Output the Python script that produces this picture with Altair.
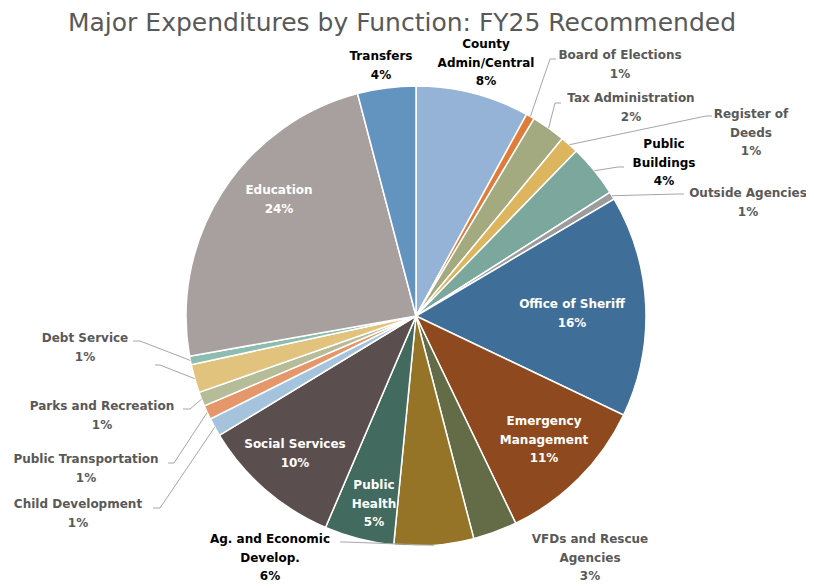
import math
import altair as alt
import pandas as pd

# ---------------- data ----------------
categories = [
    "County Admin/Central", "Board of Elections", "Tax Administration",
    "Register of Deeds", "Public Buildings", "Outside Agencies",
    "Office of Sheriff", "Emergency Management", "VFDs and Rescue Agencies",
    "Ag. and Economic Develop.", "Public Health", "Social Services",
    "Child Development", "Public Transportation", "Parks and Recreation",
    "(unlabeled)", "Debt Service", "Education", "Transfers",
]
values = [8.0, 0.6, 2.4, 1.3, 3.7, 0.55, 15.6, 10.8, 3.1, 5.6, 4.9, 9.9,
          1.3, 1.0, 1.0, 2.0, 0.6, 23.75, 4.1]
label_names = [
    "County\nAdmin/Central", "Board of Elections", "Tax Administration",
    "Register of\nDeeds", "Public\nBuildings", "Outside Agencies",
    "Office of Sheriff", "Emergency\nManagement", "VFDs and Rescue\nAgencies",
    "Ag. and Economic\nDevelop.", "Public\nHealth", "Social Services",
    "Child Development", "Public Transportation", "Parks and Recreation",
    "", "Debt Service", "Education", "Transfers",
]
title_text = "Major Expenditures by Function: FY25 Recommended"

# ---------------- styles / layout ----------------
colors = ["#95B3D7", "#E07B39", "#A3AA80", "#DDB55E", "#7BA79D", "#9C9C9C",
          "#3F6E98", "#8E4A1E", "#636B47", "#957428", "#426A5F", "#5A4E4E",
          "#A6C3DD", "#E5976B", "#B5BC97", "#E1C37D", "#8DBDB0", "#A8A09F",
          "#6394BF"]
label_colors = ["#000000", "#595959", "#595959", "#595959", "#000000", "#595959",
                "#FFFFFF", "#FFFFFF", "#595959", "#000000", "#FFFFFF", "#FFFFFF",
                "#595959", "#595959", "#595959", "#595959", "#595959", "#FFFFFF",
                "#000000"]
# label anchor (center x, first-line baseline y) in page pixels
label_pos = [(486, 48), (620, 59), (631, 102), (751, 118), (664, 148), (748, 197),
             (572, 308), (544, 425), (590, 543), (270, 543), (374, 489), (295, 448),
             (78, 508), (86, 463), (102, 410), (0, 0), (85, 342), (279, 194),
             (381, 60)]
# leader lines: elbow and end points (page pixels); None = no leader
leaders = [None, [(550, 59), (556, 59)], [(555, 103), (561, 103)],
           [(706, 116), (712, 116)], [(618, 167), (624, 167)], [(678, 194), (684, 194)],
           None, None, None, [(345, 542), (340, 542)], None, None,
           [(160, 508), (153, 508)], [(174, 463), (168, 463)], [(190, 409), (183, 409)],
           [(160, 365), (155, 365)], [(140, 341), (133, 341)], None, None]

PAGE = 8
W, H = 798, 576
CX, CY, R = 416 - PAGE, 316 - PAGE, 230
FONT = "DejaVu Sans"

# ---------------- build tables ----------------
total = sum(values)
df = pd.DataFrame({"category": categories, "value": values,
                   "order": list(range(len(categories)))})

lab_rows, line_rows = [], []
cum = 0.0
for i, (cat, v) in enumerate(zip(categories, values)):
    mid = (cum + v / 2) / total * 2 * math.pi
    cum += v
    pct = int(math.floor(v / total * 100 + 0.5))
    if label_names[i]:
        lx, ly = label_pos[i]
        lab_rows.append({"x": lx - PAGE, "y": ly - PAGE,
                         "text": f"{label_names[i]}\n{pct}%",
                         "tcolor": label_colors[i]})
    if leaders[i]:
        sx = CX + R * math.sin(mid)
        sy = CY - R * math.cos(mid)
        pts = [(sx, sy)] + [(px - PAGE, py - PAGE) for px, py in leaders[i]]
        for k, (px, py) in enumerate(pts):
            line_rows.append({"id": cat, "seq": k, "x": px, "y": py})

labels_df = pd.DataFrame(lab_rows)
lines_df = pd.DataFrame(line_rows)

pie = alt.Chart(df).mark_arc(radius=R, stroke="white", strokeWidth=1.5).encode(
    theta=alt.Theta("value:Q", stack=True),
    color=alt.Color("category:N", scale=alt.Scale(domain=categories, range=colors),
                    legend=None),
    order=alt.Order("order:Q"),
    x=alt.value(CX), y=alt.value(CY),
)

lines = alt.Chart(lines_df).mark_line(color="#A6A6A6", strokeWidth=1).encode(
    x=alt.X("x:Q", scale=None), y=alt.Y("y:Q", scale=None),
    detail="id:N", order="seq:Q",
)

texts = alt.Chart(labels_df).mark_text(
    font=FONT, fontSize=12, fontWeight="bold", align="center",
    baseline="alphabetic", lineBreak="\n", lineHeight=18.5,
).encode(
    x=alt.X("x:Q", scale=None), y=alt.Y("y:Q", scale=None),
    text="text:N", color=alt.Color("tcolor:N", scale=None),
)

title = alt.Chart(pd.DataFrame({"t": [title_text]})).mark_text(
    font=FONT, fontSize=25, color="#595959", align="center", baseline="alphabetic",
).encode(x=alt.value(402 - PAGE), y=alt.value(30.5 - PAGE), text="t:N")

chart = alt.layer(pie, lines, texts, title).properties(
    width=W, height=H, padding=0, autosize="none", background="white",
).configure_view(stroke=None)

chart.save("out.html", embed_options={"renderer": "svg", "actions": False})
